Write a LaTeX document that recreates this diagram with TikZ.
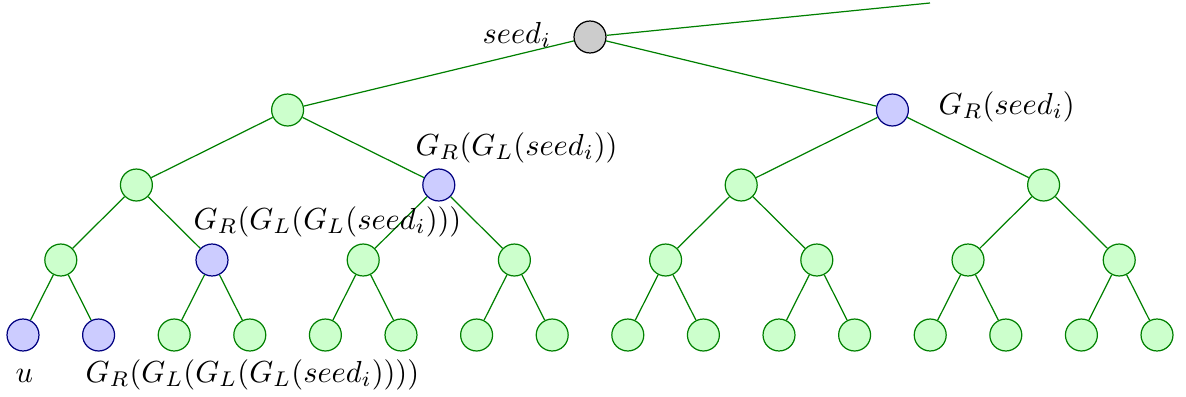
\documentclass[tikz,border=0pt]{standalone}
\begin{document}
\begin{tikzpicture}[x=0.3286pt,y=-0.3286pt,
  base/.style={circle,minimum size=10.5pt,inner sep=0pt,line width=0.4pt},
  gn/.style={base,draw=green!50!black,fill=green!20},
  bn/.style={base,draw=blue!50!black,fill=blue!20},
  rn/.style={base,draw=black,fill=gray!40},
  edge/.style={green!50!black,line width=0.4pt},
  lbl/.style={anchor=base west,inner sep=0pt}]
\useasboundingbox (0,0) rectangle (1186,396);
\node[rn] (r) at (590,37) {};
\coordinate (top) at (930,3);
\foreach \i/\s in {0/gn,1/bn} {\node[\s] (a\i) at ({287.6+604.8*\i},110) {};}
\foreach \i/\s in {0/gn,1/bn,2/gn,3/gn} {\node[\s] (b\i) at ({136.4+302.4*\i},185) {};}
\foreach \i/\s in {0/gn,1/bn,2/gn,3/gn,4/gn,5/gn,6/gn,7/gn} {\node[\s] (c\i) at ({60.8+151.2*\i},260) {};}
\foreach \i/\s in {0/bn,1/bn,2/gn,3/gn,4/gn,5/gn,6/gn,7/gn,8/gn,9/gn,10/gn,11/gn,12/gn,13/gn,14/gn,15/gn} {\node[\s] (d\i) at ({23+75.6*\i},335) {};}
\draw[edge] (r) -- (top);
\foreach \i in {0,1} {\draw[edge] (r) -- (a\i);}
\foreach \i in {0,...,3} {\pgfmathtruncatemacro\p{\i/2}\draw[edge] (a\p) -- (b\i);}
\foreach \i in {0,...,7} {\pgfmathtruncatemacro\p{\i/2}\draw[edge] (b\p) -- (c\i);}
\foreach \i in {0,...,15} {\pgfmathtruncatemacro\p{\i/2}\draw[edge] (c\p) -- (d\i);}
\node[lbl] (l0) at (482,43) {$seed_i$};
\node[lbl] (l1) at (938,114) {$G_R(seed_i)$};
\node[lbl] (l2) at (415,155) {$G_R(G_L(seed_i))$};
\node[lbl] (l3) at (193,229) {$G_R(G_L(G_L(seed_i)))$};
\node[lbl] (l4) at (15,382) {$u$};
\node[lbl] (l5) at (85,382) {$G_R(G_L(G_L(G_L(seed_i))))$};
\end{tikzpicture}
\end{document}
